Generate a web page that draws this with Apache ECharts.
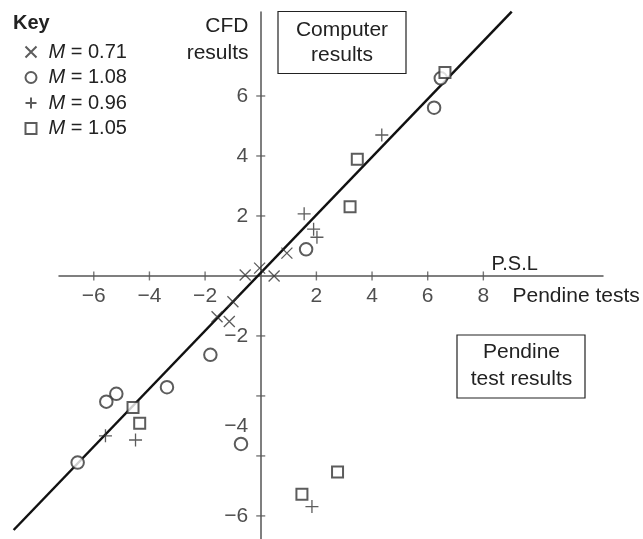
<!DOCTYPE html>
<html>
<head>
<meta charset="utf-8">
<script src="https://cdn.jsdelivr.net/npm/echarts@6/dist/echarts.min.js"></script>
<style>
html,body{margin:0;padding:0;background:#fff;}
#chart{width:643px;height:539px;}
</style>
</head>
<body>
<div id="chart"></div>
<script>
// ---- data ----
var seriesNames = ['M = 0.71', 'M = 1.08', 'M = 0.96', 'M = 1.05'];
var crossPts = [[-0.56,0.03],[-0.04,0.26],[0.48,0.0],[0.94,0.76],[-1.0,-0.86],[-1.57,-1.36],[-1.13,-1.52]];
var circlePts = [[1.63,0.89],[6.47,6.59],[6.23,5.61],[-1.81,-2.63],[-3.37,-3.71],[-5.19,-3.93],[-5.55,-4.19],[-6.58,-6.22],[-0.71,-5.6]];
var plusPts = [[1.56,2.07],[1.9,1.56],[2.02,1.29],[4.35,4.7],[-5.58,-5.33],[-4.5,-5.47],[1.84,-7.69]];
var squarePts = [[3.21,2.31],[3.47,3.89],[6.62,6.78],[-4.59,-4.39],[-4.35,-4.91],[1.48,-7.28],[2.76,-6.54]];
var fitLine = [[-8.88,-8.47],[9.02,8.81]];
var xTickValues = [-6,-4,-2,2,4,6,8];
var xTickLabels = ['\u22126','\u22124','\u22122','2','4','6','8'];
var yTickValues = [-8,-6,-4,-2,2,4,6];
var yLabelValues = [-8,-5,-2,2,4,6];
var yLabelTexts = ['\u22126','\u22124','\u22122','2','4','6'];

var FONT = 'Liberation Sans';
var FS = 21;
var TXT = '#222';
var AX = '#555';
var MK = '#333';

var chart = echarts.init(document.getElementById('chart'));

var xTickData = xTickValues.map(function(v, i){ return {value:[v, 0], label:{formatter:xTickLabels[i]}}; });
var yTickData = yTickValues.map(function(v){ return [0, v]; });
var yLabelData = yLabelValues.map(function(v, i){ return {value:[0, v], label:{formatter:yLabelTexts[i]}}; });

var option = {
  animation:false,
  backgroundColor:'#fff',
  textStyle:{fontFamily:FONT},
  title:{text:'Key', left:8, top:8, textStyle:{fontFamily:FONT, fontWeight:'bold', fontSize:20, lineHeight:20, color:TXT}},
  legend:{
    orient:'vertical', left:23, top:41, padding:0, itemGap:3.5, itemWidth:11, itemHeight:11,
    data:[
      {name:seriesNames[0], icon:'path://M0,0L10,10M10,0L0,10'},
      {name:seriesNames[1], icon:'emptyCircle'},
      {name:seriesNames[2], icon:'path://M5,0L5,10M0,5L10,5'},
      {name:seriesNames[3], icon:'emptyRect'}
    ],
    formatter:function(n){ return '{i|M}{t|' + n.slice(1) + '}'; },
    textStyle:{fontFamily:FONT, fontSize:20, color:TXT, lineHeight:22,
      rich:{i:{fontStyle:'italic', fontFamily:FONT, fontSize:20, lineHeight:22, color:TXT, padding:[0,0,0,7]},
            t:{fontFamily:FONT, fontSize:20, lineHeight:22, color:TXT}}}
  },
  grid:{left:59, right:40, top:12, bottom:0, containLabel:false, outerBoundsMode:'none'},
  xAxis:{type:'value', min:-7.25, max:12.3, splitLine:{show:false},
     axisLine:{onZero:true, lineStyle:{color:AX, width:1.5}},
     axisTick:{show:false}, axisLabel:{show:false}},
  yAxis:{type:'value', min:-8.77, max:8.8, splitLine:{show:false},
     axisLine:{onZero:true, lineStyle:{color:AX, width:1.5}},
     axisTick:{show:false}, axisLabel:{show:false}},
  series:[
    {type:'custom', data:fitLine, clip:false, silent:true, z:1,
     renderItem:function(params, api){
       if (params.dataIndex !== 1) return null;
       var p0 = api.coord(fitLine[0]);
       var p1 = api.coord(fitLine[1]);
       return {type:'line', shape:{x1:p0[0], y1:p0[1], x2:p1[0], y2:p1[1]},
               style:{stroke:'#111', lineWidth:2.5, fill:null}};
     }},
    // x ticks + labels
    {type:'scatter', data:xTickData, symbol:'rect', symbolSize:[1.4, 9], silent:true, z:2,
     itemStyle:{color:AX},
     label:{show:true, position:'bottom', distance:5.5, fontFamily:FONT, fontSize:FS, lineHeight:21, color:TXT}},
    // y ticks
    {type:'scatter', data:yTickData, symbol:'rect', symbolSize:[9, 1.4], silent:true, z:2,
     itemStyle:{color:AX}},
    // y labels
    {type:'scatter', data:yLabelData, symbol:'circle', symbolSize:0.1, silent:true, z:2,
     itemStyle:{color:'rgba(0,0,0,0)'},
     label:{show:true, position:'left', distance:12.5, fontFamily:FONT, fontSize:FS, lineHeight:21, color:TXT}},
    {name:seriesNames[0], type:'scatter', data:crossPts, symbol:'path://M0,0L10,10M10,0L0,10', symbolSize:11,
     itemStyle:{color:'none', borderColor:MK, borderWidth:1.3}, z:3},
    {name:seriesNames[1], type:'scatter', data:circlePts, symbol:'emptyCircle', symbolSize:12.5,
     itemStyle:{color:MK, borderColor:MK, borderWidth:1.3}, z:3},
    {name:seriesNames[2], type:'scatter', data:plusPts, symbol:'path://M5,0L5,10M0,5L10,5', symbolSize:13,
     itemStyle:{color:'none', borderColor:MK, borderWidth:1.3}, z:3},
    {name:seriesNames[3], type:'scatter', data:squarePts, symbol:'emptyRect', symbolSize:11,
     itemStyle:{color:MK, borderColor:MK, borderWidth:1.3}, z:3}
  ],
  graphic:[
    {type:'text', x:248.5, y:26.7, style:{text:'CFD', font:FS+'px "Liberation Sans"', fill:TXT, align:'right', verticalAlign:'middle'}},
    {type:'text', x:248.5, y:53.3, style:{text:'results', font:FS+'px "Liberation Sans"', fill:TXT, align:'right', verticalAlign:'middle'}},
    {type:'rect', shape:{x:278, y:11.5, width:128, height:62}, style:{fill:'#fff', stroke:'#222', lineWidth:1.2}, z:10},
    {type:'text', x:342, y:30, style:{text:'Computer', font:FS+'px "Liberation Sans"', fill:TXT, align:'center', verticalAlign:'middle'}, z:11},
    {type:'text', x:342, y:55, style:{text:'results', font:FS+'px "Liberation Sans"', fill:TXT, align:'center', verticalAlign:'middle'}, z:11},
    {type:'rect', shape:{x:457, y:335, width:128, height:63}, style:{fill:'#fff', stroke:'#222', lineWidth:1.2}, z:10},
    {type:'text', x:521.5, y:352, style:{text:'Pendine', font:FS+'px "Liberation Sans"', fill:TXT, align:'center', verticalAlign:'middle'}, z:11},
    {type:'text', x:521.5, y:379, style:{text:'test results', font:FS+'px "Liberation Sans"', fill:TXT, align:'center', verticalAlign:'middle'}, z:11},
    {type:'text', x:491.5, y:264, style:{text:'P.S.L', font:'20px "Liberation Sans"', fill:TXT, align:'left', verticalAlign:'middle'}},
    {type:'text', x:512.5, y:296, style:{text:'Pendine tests', font:FS+'px "Liberation Sans"', fill:TXT, align:'left', verticalAlign:'middle'}}
  ]
};
chart.setOption(option);
</script>
</body>
</html>
